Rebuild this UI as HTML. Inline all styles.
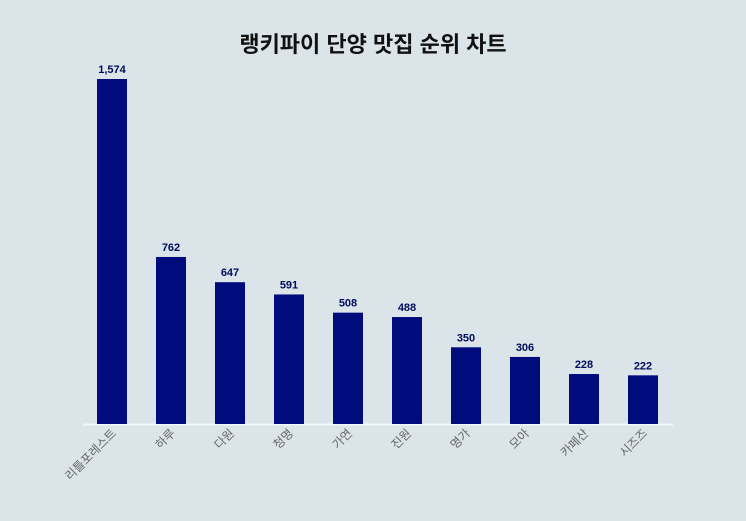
<!DOCTYPE html>
<html><head><meta charset="utf-8"><style>
body{margin:0;background:#dbe4e8;}
svg{display:block;font-family:"Liberation Sans","Noto Sans CJK KR",sans-serif;}
</style></head><body>
<svg id="chart" width="746" height="521" viewBox="0 0 746 521">
<rect width="746" height="521" fill="#dbe4e8"/>
<text x="373" y="52" text-anchor="middle" font-size="22" font-weight="bold" fill="#111">랭키파이 단양 맛집 순위 차트</text>
<line x1="83" y1="424.5" x2="673" y2="424.5" stroke="#f2f5f6" stroke-width="2"/>
<g id="bars"></g>
</svg>
<script>
const categories=["리틀포레스트","하루","다원","청명","가연","진원","명가","모아","카페산","시즈즈"];
const values=[1574,762,647,591,508,488,350,306,228,222];
const valueLabels=["1,574","762","647","591","508","488","350","306","228","222"];
const baseY=424, plotTop=79, maxV=1574;
function yScale(v){return baseY-(v/maxV)*(baseY-plotTop);}
function xCenter(i){return 112+i*59;}
const g=document.getElementById('bars');
const NS="http://www.w3.org/2000/svg";
categories.forEach((c,i)=>{
  const x=xCenter(i), y=yScale(values[i]);
  const r=document.createElementNS(NS,'rect');
  r.setAttribute('x',x-15);r.setAttribute('y',y);r.setAttribute('width',30);r.setAttribute('height',baseY-y);
  r.setAttribute('fill','#000c7b');
  
  
  g.appendChild(r);
  const t=document.createElementNS(NS,'text');
  t.setAttribute('x',x);t.setAttribute('y',y-6);t.setAttribute('text-anchor','middle');
  t.setAttribute('font-size','11');t.setAttribute('font-weight','bold');t.setAttribute('fill','#000c5b');
  t.textContent=valueLabels[i];
  
  
  g.appendChild(t);
  const l=document.createElementNS(NS,'text');
  l.setAttribute('x',x+5);l.setAttribute('y',434);l.setAttribute('text-anchor','end');
  l.setAttribute('font-size','12');l.setAttribute('fill','#666');
  l.setAttribute('transform','rotate(-45 '+(x+5)+' 434)');
  l.textContent=c;
  
  
  g.appendChild(l);
});
</script>
</body></html>
